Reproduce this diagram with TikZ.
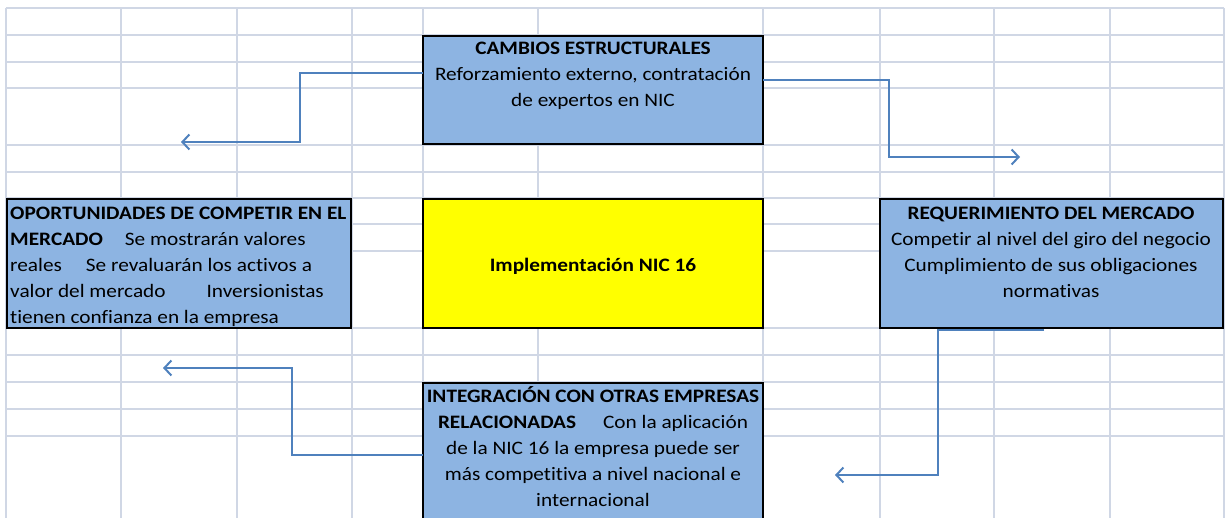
\documentclass[tikz,border=0pt]{standalone}
\usepackage{fontspec}
\setmainfont{Carlito}[FakeStretch=1.12,Ligatures=CommonOff]
\usetikzlibrary{arrows.meta}
\definecolor{azulCelda}{HTML}{8DB4E2}
\definecolor{amarilloCelda}{HTML}{FFFF00}
\definecolor{lineaCelda}{HTML}{D0D7E5}
\definecolor{azulFlecha}{HTML}{4F81BD}

\begin{document}
\begin{tikzpicture}
[x=1pt,y=-1pt,%
  arrowDecorate/.style={-{Straight Barb[length=7pt,width=15pt]},azulFlecha,line width=2pt},%
  nodeDecorate/.style={shape=rectangle,draw=black,line width=2.6pt,anchor=north west,inner sep=0pt,outer sep=0pt},%
  textDecorate/.style={inner sep=0pt,font=\fontsize{19}{26}\selectfont},%
  gridDecorate/.style={lineaCelda,line width=1.3pt}]
\useasboundingbox (0,0) rectangle (1227,518);
\clip (0,0) rectangle (1227,518);
%% grid of the sheet
\foreach \x in {6,121,237,352,423,538,763,880,994,1110,1224}
{
  \draw[gridDecorate] (\x,8) -- (\x,518);
}
\foreach \y in {8,35,62,88,145,172,198,224,251,328,355,382,409,436}
{
  \draw[gridDecorate] (6,\y) -- (1224,\y);
}
%% boxes
\foreach \nodename/\x/\y/\w/\h/\relleno in {
  cambios/423/36/340/108/azulCelda, oportunidades/7/199/344/129/azulCelda,
  implementacion/423/199/340/129/amarilloCelda, requerimiento/880/199/343/129/azulCelda,
  integracion/423/383/340/150/azulCelda}
{
  \node (\nodename) at (\x,\y) [nodeDecorate,fill=\relleno,minimum width=\w,minimum height=\h] {};
}
%% texts
\node[textDecorate,anchor=north,align=center] (cambiosTexto) at (593,36)
  {\strut\textbf{CAMBIOS ESTRUCTURALES}\\Reforzamiento externo, contratación\\de expertos en NIC};
\node[textDecorate,anchor=north west,align=left] (oportunidadesTexto) at (10,201)
  {\strut\textbf{OPORTUNIDADES DE COMPETIR EN EL}\\\textbf{MERCADO}\hspace{22pt}Se mostrarán valores\\
   reales\hspace{24pt}Se revaluarán los activos a\\valor del mercado\hspace{41pt}Inversionistas\\
   tienen confianza en la empresa};
\node[textDecorate,anchor=base] (implementacionTexto) at (593,272) {\textbf{Implementación NIC 16}};
\node[textDecorate,anchor=north,align=center] (requerimientoTexto) at (1051,201)
  {\strut\textbf{REQUERIMIENTO DEL MERCADO}\\Competir al nivel del giro del negocio\\
   Cumplimiento de sus obligaciones\\normativas};
\node[textDecorate,anchor=north,align=center] (integracionTexto) at (593,384)
  {\strut\textbf{INTEGRACIÓN CON OTRAS EMPRESAS}\\\textbf{RELACIONADAS}\hspace{27pt}Con la aplicación\\
   de la NIC 16 la empresa puede ser\\más competitiva a nivel nacional e\\internacional};
%% arrows
\coordinate (codoA) at (300,142);
\coordinate (puntaA) at (181,142);
\coordinate (codoB) at (889,157);
\coordinate (puntaB) at (1020,157);
\coordinate (codoC) at (292,368);
\coordinate (puntaC) at (163,368);
\coordinate (codoD) at (938,475);
\coordinate (puntaD) at (835,475);
\draw[arrowDecorate] (cambios.west |- 0,73) -| (codoA) -- (puntaA);
\draw[arrowDecorate] (cambios.east |- 0,80) -| (codoB) -- (puntaB);
\draw[arrowDecorate] (integracion.west |- 0,455) -| (codoC) -- (puntaC);
\draw[arrowDecorate] ([yshift=-2pt]requerimiento.south -| 1044,0) -| (codoD) -- (puntaD);
\end{tikzpicture}
\end{document}
